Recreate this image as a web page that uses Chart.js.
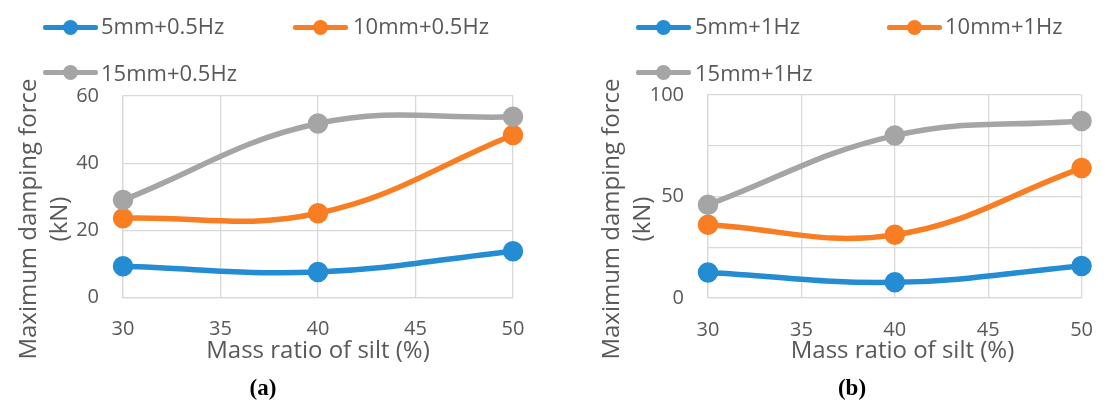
<!DOCTYPE html>
<html><head><meta charset="utf-8">
<script src="https://cdn.jsdelivr.net/npm/chart.js@4.4.1/dist/chart.umd.min.js"></script>
<style>
html,body{margin:0;padding:0;background:#fff;}
#wrap{position:relative;width:1113px;height:401px;overflow:hidden;font-family:"Open Sans",sans-serif;color:#595959;}
.cv{position:absolute;top:0;}
.legtxt{position:absolute;font-size:22px;line-height:22px;white-space:nowrap;}
.sym{position:absolute;height:5px;width:55px;border-radius:2px;}
.sym i{position:absolute;left:20px;top:-5px;width:15px;height:15px;border-radius:50%;}
.ytitle{position:absolute;width:420px;height:62px;line-height:31px;font-size:24px;text-align:center;transform:rotate(-90deg);white-space:nowrap;}
.xtitle{position:absolute;width:300px;text-align:center;font-size:24px;line-height:24px;white-space:nowrap;}
.cap{position:absolute;font-family:"Liberation Serif",serif;font-weight:bold;font-size:23px;line-height:24px;color:#000;width:60px;text-align:center;}
</style>
</head><body>
<div id="wrap">
  <canvas id="ca" class="cv" style="left:0;width:556px;height:401px" width="556" height="401"></canvas>
  <canvas id="cb" class="cv" style="left:556px;width:557px;height:401px" width="557" height="401"></canvas>
</div>
<script>
// ---- data ----
const massRatio = [30, 40, 50];
const xTickValues = [30, 35, 40, 45, 50];
const seriesNamesA = ['5mm+0.5Hz', '10mm+0.5Hz', '15mm+0.5Hz'];
const seriesNamesB = ['5mm+1Hz', '10mm+1Hz', '15mm+1Hz'];
const forceA5 = [9.3, 7.6, 13.8];
const forceA10 = [23.6, 25.1, 48.4];
const forceA15 = [29.0, 51.8, 53.8];
const forceB5 = [12.6, 7.7, 15.8];
const forceB10 = [36.1, 31.1, 64.0];
const forceB15 = [45.9, 80.0, 87.2];
const yTickLabelsA = [0, 20, 40, 60];
const yTickLabelsB = [0, 50, 100];
const xAxisTitle = 'Mass ratio of silt (%)';
const yAxisTitle = ['Maximum damping force', '(kN)'];
const captions = ['(a)', '(b)'];

// ---- style ----
const colors = ['#238CD2', '#F97D23', '#A5A5A5'];
const gridColor = '#D9D9D9';
const textColor = '#595959';

function makeDatasets(names, arrays) {
  return names.map((n, i) => ({
    label: n,
    data: massRatio.map((x, j) => ({x: x, y: arrays[i][j]})),
    borderColor: colors[i],
    backgroundColor: colors[i],
    pointBackgroundColor: colors[i],
    pointBorderColor: colors[i],
    borderWidth: 5.5,
    pointRadius: 7.5,
    pointHoverRadius: 7.5,
    tension: 0.4,
    clip: false,
    order: 3 - i
  }));
}

function makeChart(id, datasets, yMax, yStep, yLabels, yAxisWidth, pad) {
  return new Chart(document.getElementById(id), {
    type: 'line',
    data: {datasets: datasets},
    options: {
      responsive: false,
      animation: false,
      events: [],
      layout: {padding: pad},
      plugins: {legend: {display: false}, tooltip: {enabled: false}},
      scales: {
        x: {
          type: 'linear', min: xTickValues[0], max: xTickValues[xTickValues.length - 1],
          afterBuildTicks: s => { s.ticks = xTickValues.map(v => ({value: v})); },
          ticks: {font: {family: 'Open Sans', size: 20}, color: textColor, padding: 20, maxRotation: 0},
          grid: {color: gridColor, lineWidth: 1.3, drawTicks: false},
          border: {color: gridColor, width: 1.3},
          afterFit: s => { s.height = 60; }
        },
        y: {
          min: 0, max: yMax,
          ticks: {stepSize: yStep, font: {family: 'Open Sans', size: 20}, color: textColor, padding: 24,
                  callback: v => yLabels.includes(v) ? String(v) : ''},
          grid: {color: gridColor, lineWidth: 1.3, drawTicks: false},
          border: {color: gridColor, width: 1.3},
          afterFit: s => { s.width = yAxisWidth; }
        }
      }
    }
  });
}

makeChart('ca', makeDatasets(seriesNamesA, [forceA5, forceA10, forceA15]), 60, 20, yTickLabelsA, 123,
  {left: 0, top: 96, right: 43, bottom: 43.5});
makeChart('cb', makeDatasets(seriesNamesB, [forceB5, forceB10, forceB15]), 100, 25, yTickLabelsB, 152,
  {left: 0, top: 95, right: 16, bottom: 43});

// ---- HTML text: legends, axis titles, captions ----
const wrap = document.getElementById('wrap');
function add(cls, html, style) {
  const d = document.createElement('div');
  d.className = cls; d.innerHTML = html; Object.assign(d.style, style); wrap.appendChild(d); return d;
}
const legendLayout = [
  [{sym: 43, txt: 101, row: 0}, {sym: 293, txt: 353, row: 0}, {sym: 43, txt: 101, row: 1}],
  [{sym: 636, txt: 695, row: 0}, {sym: 887, txt: 945, row: 0}, {sym: 636, txt: 695, row: 1}]
];
const rowSymTop = [24.5, 69.5], rowTxtTop = [13.5, 60.5];
[seriesNamesA, seriesNamesB].forEach((names, p) => {
  names.forEach((n, i) => {
    const L = legendLayout[p][i];
    add('sym', '<i style="background:' + colors[i] + '"></i>', {left: L.sym + 'px', top: rowSymTop[L.row] + 'px', background: colors[i]});
    add('legtxt', n, {left: L.txt + 'px', top: rowTxtTop[L.row] + 'px'});
  });
});
const yTitleCenters = [42, 625];
yTitleCenters.forEach(cx => {
  add('ytitle', yAxisTitle.join('<br>'), {left: (cx - 210) + 'px', top: (219 - 31) + 'px'});
});
const xTitleCenters = [318, 902.5];
xTitleCenters.forEach(cx => add('xtitle', xAxisTitle, {left: (cx - 150) + 'px', top: '337px'}));
const capCenters = [263, 852];
capCenters.forEach((cx, i) => add('cap', captions[i], {left: (cx - 30) + 'px', top: '376px'}));
</script>
</body></html>
